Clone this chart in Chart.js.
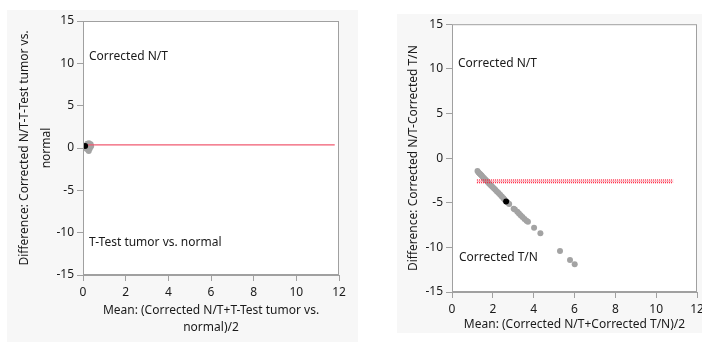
<!DOCTYPE html>
<html>
<head>
<meta charset="utf-8">
<script src="https://cdn.jsdelivr.net/npm/chart.js@4.4.1/dist/chart.umd.min.js"></script>
<style>
  html, body { margin: 0; padding: 0; width: 702px; height: 342px; overflow: hidden; background: #ffffff; }
  .panel { position: absolute; background: #f7f7f7; }
  #p1 { left: 7px; top: 10px; width: 351px; height: 332px; }
  #p2 { left: 397px; top: 14px; width: 305px; height: 319px; }
  canvas { position: absolute; left: 0; top: 0; }
</style>
</head>
<body>
<div class="panel" id="p1"><canvas id="c1" width="351" height="332" style="width:351px;height:332px"></canvas></div>
<div class="panel" id="p2"><canvas id="c2" width="320" height="328" style="width:320px;height:328px"></canvas></div>
<script>
// ---- Bland-Altman: Corrected N/T vs T-Test tumor vs. normal ----
const leftMeans = [0.18, 0.22, 0.26, 0.30, 0.34, 0.38, 0.24, 0.20, 0.28, 0.32, 0.27, 0.36, 0.16];
const leftDiffs = [0.10, 0.30, 0.05, 0.25, 0.15, 0.20, -0.25, 0.50, 0.55, -0.05, -0.35, 0.45, -0.10];
const leftHighlight = { mean: 0.10, diff: 0.24 };
const leftMeanDiff = 0.38;
const leftLineRange = [0.23, 11.8];

// ---- Bland-Altman: Corrected N/T vs Corrected T/N ----
const rightMeans = [1.25, 1.30, 1.35, 1.40, 1.45, 1.50, 1.56, 1.62, 1.68, 1.75,
                    1.82, 1.90, 1.97, 2.05, 2.12, 2.20, 2.28, 2.36, 2.44, 2.52,
                    2.58, 2.72, 2.80, 3.02, 3.08, 3.20, 3.28, 3.36, 3.45, 3.55,
                    3.65, 3.72, 4.02, 4.33, 5.29, 5.78, 6.01];
const rightDiffs = [-1.45, -1.60, -1.72, -1.85, -1.96, -2.10, -2.24, -2.38, -2.52, -2.68,
                    -2.86, -3.04, -3.20, -3.38, -3.55, -3.74, -3.92, -4.10, -4.30, -4.50,
                    -4.66, -4.98, -5.15, -5.68, -5.75, -6.02, -6.20, -6.40, -6.60, -6.82,
                    -7.02, -7.14, -7.80, -8.43, -10.41, -11.42, -11.90];
const rightHighlight = { mean: 2.65, diff: -4.85 };
const rightMeanDiff = -2.60;
const rightUpperCI = -2.45;
const rightLowerCI = -2.75;
const rightLineRange = [1.22, 10.83];

const xTicks = [0, 2, 4, 6, 8, 10, 12];
const yTicks = [-15, -10, -5, 0, 5, 10, 15];

const FONT = "'Noto Sans', 'Open Sans', sans-serif";
const TEXT = '#1a1a1a';
const AXIS = '#a0a0a0';

const toPoints = (xs, ys) => xs.map((x, i) => ({ x, y: ys[i] }));

// white plot area with a thin grey frame
const plotFrame = {
  id: 'plotFrame',
  beforeDatasetsDraw(chart) {
    const { ctx, chartArea: a } = chart;
    ctx.save();
    ctx.fillStyle = '#ffffff';
    ctx.fillRect(a.left, a.top, a.right - a.left, a.bottom - a.top);
    ctx.restore();
  },
  afterDraw(chart) {
    const { ctx, chartArea: a } = chart;
    ctx.save();
    ctx.strokeStyle = AXIS;
    ctx.lineWidth = 1;
    ctx.strokeRect(a.left + 0.5, a.top + 0.5, a.right - a.left - 1, a.bottom - a.top - 1);
    ctx.restore();
  }
};

// corner labels naming which method lies above / below zero
const plotNotes = {
  id: 'plotNotes',
  afterDatasetsDraw(chart, args, opts) {
    const { ctx, chartArea: a } = chart;
    ctx.save();
    ctx.font = '12px ' + FONT;
    ctx.fillStyle = TEXT;
    ctx.textBaseline = 'middle';
    ctx.textAlign = 'left';
    (opts.items || []).forEach(it => {
      const y = it.fromBottom != null ? a.bottom - it.fromBottom : a.top + it.fromTop;
      ctx.fillText(it.text, a.left + it.dx, y);
    });
    ctx.restore();
  }
};

function axisCommon(values, labelPad) {
  return {
    type: 'linear',
    afterBuildTicks(scale) { scale.ticks = values.map(v => ({ value: v })); },
    ticks: { color: TEXT, font: { family: FONT, size: 12 }, padding: labelPad, maxRotation: 0, autoSkip: false },
    grid: { drawOnChartArea: false, drawTicks: true, tickLength: 6, color: AXIS },
    border: { display: true, color: AXIS }
  };
}

function makeChart(id, cfg) {
  const xAxis = Object.assign(axisCommon(xTicks, 4), {
    min: 0, max: 12,
    afterFit(scale) { scale.height = cfg.xHeight; },
    title: { display: true, text: cfg.xTitle, color: TEXT,
             font: { family: FONT, size: 12, lineHeight: 1.4 }, padding: { top: 0, bottom: cfg.xTitlePad } }
  });
  const yAxis = Object.assign(axisCommon(yTicks, 3), {
    min: -15, max: 15,
    afterFit(scale) { scale.width = cfg.yWidth; },
    title: { display: true, text: cfg.yTitle, color: TEXT,
             font: { family: FONT, size: 12, lineHeight: cfg.yTitleLH }, padding: { top: cfg.yTitlePad, bottom: 0 } }
  });

  return new Chart(document.getElementById(id), {
    type: 'scatter',
    data: { datasets: cfg.datasets },
    options: {
      responsive: false,
      animation: false,
      devicePixelRatio: 1,
      layout: { padding: cfg.padding },
      plugins: { legend: { display: false }, tooltip: { enabled: false }, plotNotes: { items: cfg.notes } },
      scales: { x: xAxis, y: yAxis }
    },
    plugins: [plotFrame, plotNotes]
  });
}

// lower "order" is drawn on top
const grey = { backgroundColor: '#a3a3a3', borderColor: '#a3a3a3', pointRadius: 3, borderWidth: 0, order: 3 };
const black = { backgroundColor: '#000000', borderColor: '#000000', pointRadius: 3, borderWidth: 0, order: 0 };
const redLine = (x0, x1, y, dash, color, width) => ({
  type: 'line', data: [{ x: x0, y }, { x: x1, y }], borderColor: color || '#f0506a', borderWidth: width || 1,
  borderDash: dash || [], pointRadius: 0, fill: false, order: 1
});

makeChart('c1', {
  padding: { top: 11, right: 19, left: 0, bottom: 0 },
  yWidth: 76, xHeight: 67, yTitlePad: 6, yTitleLH: 1.85, xTitlePad: 6,
  xTitle: ['Mean: (Corrected N/T+T-Test tumor vs.', 'normal)/2'],
  yTitle: ['Difference: Corrected N/T-T-Test tumor vs.', 'normal'],
  notes: [
    { text: 'Corrected N/T', dx: 6, fromTop: 36 },
    { text: 'T-Test tumor vs. normal', dx: 6, fromBottom: 32 }
  ],
  datasets: [
    redLine(leftLineRange[0], leftLineRange[1], leftMeanDiff, [], '#f05a70', 1.2),
    Object.assign({ data: toPoints(leftMeans, leftDiffs) }, grey),
    Object.assign({ data: [{ x: leftHighlight.mean, y: leftHighlight.diff }] }, black)
  ]
});

makeChart('c2', {
  padding: { top: 10, right: 20, left: 0, bottom: 0 },
  yWidth: 55, xHeight: 50, yTitlePad: 8, yTitleLH: 1.35, xTitlePad: 9,
  xTitle: 'Mean: (Corrected N/T+Corrected T/N)/2',
  yTitle: 'Difference: Corrected N/T-Corrected T/N',
  notes: [
    { text: 'Corrected N/T', dx: 6, fromTop: 39 },
    { text: 'Corrected T/N', dx: 7, fromBottom: 34 }
  ],
  datasets: [
    redLine(rightLineRange[0], rightLineRange[1], rightUpperCI, [1, 1], '#ff1f3d', 1.3),
    redLine(rightLineRange[0], rightLineRange[1], rightMeanDiff, [], 'rgba(245,90,110,0.55)', 1),
    redLine(rightLineRange[0], rightLineRange[1], rightLowerCI, [1, 1], '#ff1f3d', 1.3),
    Object.assign({ data: toPoints(rightMeans, rightDiffs) }, grey),
    Object.assign({ data: [{ x: rightHighlight.mean, y: rightHighlight.diff }] }, black)
  ]
});
</script>
</body>
</html>
